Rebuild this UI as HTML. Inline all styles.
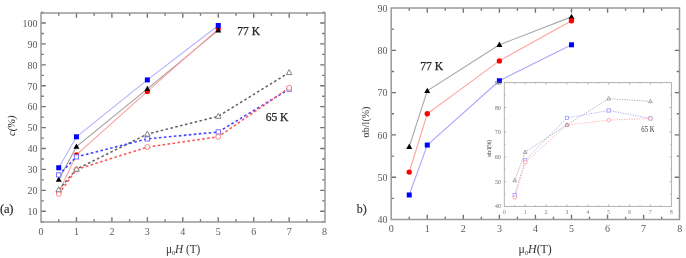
<!DOCTYPE html>
<html><head><meta charset="utf-8"><style>
html,body{margin:0;padding:0;background:#fff;width:686px;height:258px;overflow:hidden}
svg{display:block;font-family:"Liberation Serif",serif}
</style></head><body>
<svg width="686" height="258" viewBox="0 0 686 258" font-family="Liberation Serif, serif">
<defs><filter id="bl" x="-5%" y="-5%" width="110%" height="110%"><feGaussianBlur stdDeviation="0.55"/></filter></defs>
<rect width="686" height="258" fill="#fff"/>
<g filter="url(#bl)">
<path d="M76.45 222v-4.8M76.45 13v4.8M111.9 222v-4.8M111.9 13v4.8M147.35 222v-4.8M147.35 13v4.8M182.8 222v-4.8M182.8 13v4.8M218.25 222v-4.8M218.25 13v4.8M253.7 222v-4.8M253.7 13v4.8M289.15 222v-4.8M289.15 13v4.8M58.73 222v-2.8M58.73 13v2.8M94.18 222v-2.8M94.18 13v2.8M129.62 222v-2.8M129.62 13v2.8M165.08 222v-2.8M165.08 13v2.8M200.53 222v-2.8M200.53 13v2.8M235.98 222v-2.8M235.98 13v2.8M271.43 222v-2.8M271.43 13v2.8M306.88 222v-2.8M306.88 13v2.8" stroke="#707070" stroke-width="1.35" fill="none"/>
<path d="M41 211.28h4.8M325 211.28h-4.8M41 190.36h4.8M325 190.36h-4.8M41 169.44h4.8M325 169.44h-4.8M41 148.52h4.8M325 148.52h-4.8M41 127.6h4.8M325 127.6h-4.8M41 106.68h4.8M325 106.68h-4.8M41 85.76h4.8M325 85.76h-4.8M41 64.84h4.8M325 64.84h-4.8M41 43.92h4.8M325 43.92h-4.8M41 23h4.8M325 23h-4.8M41 221.74h2.8M325 221.74h-2.8M41 200.82h2.8M325 200.82h-2.8M41 179.9h2.8M325 179.9h-2.8M41 158.98h2.8M325 158.98h-2.8M41 138.06h2.8M325 138.06h-2.8M41 117.14h2.8M325 117.14h-2.8M41 96.22h2.8M325 96.22h-2.8M41 75.3h2.8M325 75.3h-2.8M41 54.38h2.8M325 54.38h-2.8M41 33.46h2.8M325 33.46h-2.8M41 12.54h2.8M325 12.54h-2.8" stroke="#707070" stroke-width="1.35" fill="none"/>
<rect x="41" y="13" width="284" height="209" fill="none" stroke="#999" stroke-width="1.5"/>
<text x="37.4" y="215.08" font-size="10" text-anchor="end" fill="#5a5a5a" >10</text>
<text x="37.4" y="194.16" font-size="10" text-anchor="end" fill="#5a5a5a" >20</text>
<text x="37.4" y="173.24" font-size="10" text-anchor="end" fill="#5a5a5a" >30</text>
<text x="37.4" y="152.32" font-size="10" text-anchor="end" fill="#5a5a5a" >40</text>
<text x="37.4" y="131.4" font-size="10" text-anchor="end" fill="#5a5a5a" >50</text>
<text x="37.4" y="110.48" font-size="10" text-anchor="end" fill="#5a5a5a" >60</text>
<text x="37.4" y="89.56" font-size="10" text-anchor="end" fill="#5a5a5a" >70</text>
<text x="37.4" y="68.64" font-size="10" text-anchor="end" fill="#5a5a5a" >80</text>
<text x="37.4" y="47.72" font-size="10" text-anchor="end" fill="#5a5a5a" >90</text>
<text x="37.4" y="26.8" font-size="10" text-anchor="end" fill="#5a5a5a" >100</text>
<text x="41" y="234.5" font-size="10" text-anchor="middle" fill="#5a5a5a" >0</text>
<text x="76.45" y="234.5" font-size="10" text-anchor="middle" fill="#5a5a5a" >1</text>
<text x="111.9" y="234.5" font-size="10" text-anchor="middle" fill="#5a5a5a" >2</text>
<text x="147.35" y="234.5" font-size="10" text-anchor="middle" fill="#5a5a5a" >3</text>
<text x="182.8" y="234.5" font-size="10" text-anchor="middle" fill="#5a5a5a" >4</text>
<text x="218.25" y="234.5" font-size="10" text-anchor="middle" fill="#5a5a5a" >5</text>
<text x="253.7" y="234.5" font-size="10" text-anchor="middle" fill="#5a5a5a" >6</text>
<text x="289.15" y="234.5" font-size="10" text-anchor="middle" fill="#5a5a5a" >7</text>
<text x="324.6" y="234.5" font-size="10" text-anchor="middle" fill="#5a5a5a" >8</text>
<polyline points="58.73,167.77 76.45,136.8 147.35,79.9 218.25,25.51" fill="none" stroke="#b3b3ff" stroke-width="1.1" opacity="1"/>
<polyline points="58.73,179.69 76.45,146.64 147.35,88.9 218.25,30.32" fill="none" stroke="#a0a0a0" stroke-width="1.1" opacity="1"/>
<polyline points="58.73,192.45 76.45,154.8 147.35,91.41 218.25,28.86" fill="none" stroke="#ffa0a0" stroke-width="1.1" opacity="1"/>
<circle cx="58.73" cy="192.45" r="2.6" fill="#f00" stroke="none" stroke-width="0"/>
<circle cx="76.45" cy="154.8" r="2.6" fill="#f00" stroke="none" stroke-width="0"/>
<circle cx="147.35" cy="91.41" r="2.6" fill="#f00" stroke="none" stroke-width="0"/>
<circle cx="218.25" cy="28.86" r="2.6" fill="#f00" stroke="none" stroke-width="0"/>
<path d="M58.73 176.45L61.73 181.85L55.73 181.85Z" fill="#000" stroke="none" stroke-width="0"/>
<path d="M76.45 143.4L79.45 148.8L73.45 148.8Z" fill="#000" stroke="none" stroke-width="0"/>
<path d="M147.35 85.66L150.35 91.06L144.35 91.06Z" fill="#000" stroke="none" stroke-width="0"/>
<path d="M218.25 27.08L221.25 32.48L215.25 32.48Z" fill="#000" stroke="none" stroke-width="0"/>
<rect x="56.23" y="165.27" width="5" height="5" fill="#00f" stroke="none" stroke-width="0"/>
<rect x="73.95" y="134.3" width="5" height="5" fill="#00f" stroke="none" stroke-width="0"/>
<rect x="144.85" y="77.4" width="5" height="5" fill="#00f" stroke="none" stroke-width="0"/>
<rect x="215.75" y="23.01" width="5" height="5" fill="#00f" stroke="none" stroke-width="0"/>
<polyline points="58.73,189.73 76.45,169.23 147.35,134.09 218.25,116.3 289.15,72.58" fill="none" stroke="#606060" stroke-width="1.5" stroke-dasharray="2.6,2.4" opacity="1"/>
<polyline points="58.73,174.88 76.45,156.89 147.35,138.9 218.25,131.99 289.15,89.11" fill="none" stroke="#44f" stroke-width="1.6" stroke-dasharray="2.6,2.4" opacity="1"/>
<polyline points="58.73,193.92 76.45,169.44 147.35,147.06 218.25,136.8 289.15,87.85" fill="none" stroke="#f55" stroke-width="1.6" stroke-dasharray="2.6,2.4" opacity="1"/>
<rect x="56.58" y="172.73" width="4.3" height="4.3" fill="#fff" stroke="#66f" stroke-width="0.9"/>
<rect x="74.3" y="154.74" width="4.3" height="4.3" fill="#fff" stroke="#66f" stroke-width="0.9"/>
<rect x="145.2" y="136.75" width="4.3" height="4.3" fill="#fff" stroke="#66f" stroke-width="0.9"/>
<rect x="216.1" y="129.84" width="4.3" height="4.3" fill="#fff" stroke="#66f" stroke-width="0.9"/>
<rect x="287" y="86.96" width="4.3" height="4.3" fill="#fff" stroke="#66f" stroke-width="0.9"/>
<circle cx="58.73" cy="193.92" r="2.5" fill="#fff" stroke="#f77" stroke-width="0.9"/>
<circle cx="76.45" cy="169.44" r="2.5" fill="#fff" stroke="#f77" stroke-width="0.9"/>
<circle cx="147.35" cy="147.06" r="2.5" fill="#fff" stroke="#f77" stroke-width="0.9"/>
<circle cx="218.25" cy="136.8" r="2.5" fill="#fff" stroke="#f77" stroke-width="0.9"/>
<circle cx="289.15" cy="87.85" r="2.5" fill="#fff" stroke="#f77" stroke-width="0.9"/>
<path d="M58.73 186.71L61.52 191.75L55.93 191.75Z" fill="#fff" stroke="#777" stroke-width="0.9"/>
<path d="M76.45 166.21L79.25 171.25L73.65 171.25Z" fill="#fff" stroke="#777" stroke-width="0.9"/>
<path d="M147.35 131.06L150.15 136.1L144.55 136.1Z" fill="#fff" stroke="#777" stroke-width="0.9"/>
<path d="M218.25 113.28L221.05 118.32L215.45 118.32Z" fill="#fff" stroke="#777" stroke-width="0.9"/>
<path d="M289.15 69.56L291.95 74.6L286.35 74.6Z" fill="#fff" stroke="#777" stroke-width="0.9"/>
<text x="248.7" y="35.4" font-size="11.5" text-anchor="middle" fill="#222" stroke="#222" stroke-width="0.25">77 K</text>
<text x="277" y="121.2" font-size="11.5" text-anchor="middle" fill="#222" stroke="#222" stroke-width="0.25">65 K</text>
<text x="11" y="125.8" font-size="10.5" text-anchor="middle" fill="#222" transform="rotate(-90 11 125.8)" font-style="italic" dy="3.6">c(%)</text>
<text x="6.8" y="212.5" font-size="12.5" text-anchor="middle" fill="#222" stroke="#222" stroke-width="0.15" textLength="13.4">(a)</text>
<text x="166" y="253" font-size="11.8" fill="#333" textLength="34.3" lengthAdjust="spacingAndGlyphs">μ<tspan font-size="6.5" dy="2">0</tspan><tspan dy="-2" font-style="italic">H</tspan> (T)</text>
<path d="M427.26 219.5v-4.8M427.26 8v4.8M463.32 219.5v-4.8M463.32 8v4.8M499.38 219.5v-4.8M499.38 8v4.8M535.44 219.5v-4.8M535.44 8v4.8M571.5 219.5v-4.8M571.5 8v4.8M607.56 219.5v-4.8M607.56 8v4.8M643.62 219.5v-4.8M643.62 8v4.8M409.23 219.5v-2.8M409.23 8v2.8M445.29 219.5v-2.8M445.29 8v2.8M481.35 219.5v-2.8M481.35 8v2.8M517.41 219.5v-2.8M517.41 8v2.8M553.47 219.5v-2.8M553.47 8v2.8M589.53 219.5v-2.8M589.53 8v2.8M625.59 219.5v-2.8M625.59 8v2.8M661.65 219.5v-2.8M661.65 8v2.8" stroke="#707070" stroke-width="1.35" fill="none"/>
<path d="M391.2 177.2h4.8M679.5 177.2h-4.8M391.2 134.9h4.8M679.5 134.9h-4.8M391.2 92.6h4.8M679.5 92.6h-4.8M391.2 50.3h4.8M679.5 50.3h-4.8M391.2 198.35h2.8M679.5 198.35h-2.8M391.2 156.05h2.8M679.5 156.05h-2.8M391.2 113.75h2.8M679.5 113.75h-2.8M391.2 71.45h2.8M679.5 71.45h-2.8M391.2 29.15h2.8M679.5 29.15h-2.8" stroke="#707070" stroke-width="1.35" fill="none"/>
<rect x="391.2" y="8" width="288.3" height="211.5" fill="none" stroke="#999" stroke-width="1.5"/>
<text x="387.6" y="223.1" font-size="10" text-anchor="end" fill="#5a5a5a" >40</text>
<text x="387.6" y="180.8" font-size="10" text-anchor="end" fill="#5a5a5a" >50</text>
<text x="387.6" y="138.5" font-size="10" text-anchor="end" fill="#5a5a5a" >60</text>
<text x="387.6" y="96.2" font-size="10" text-anchor="end" fill="#5a5a5a" >70</text>
<text x="387.6" y="53.9" font-size="10" text-anchor="end" fill="#5a5a5a" >80</text>
<text x="387.6" y="11.6" font-size="10" text-anchor="end" fill="#5a5a5a" >90</text>
<text x="391.2" y="232.2" font-size="10" text-anchor="middle" fill="#5a5a5a" >0</text>
<text x="427.26" y="232.2" font-size="10" text-anchor="middle" fill="#5a5a5a" >1</text>
<text x="463.32" y="232.2" font-size="10" text-anchor="middle" fill="#5a5a5a" >2</text>
<text x="499.38" y="232.2" font-size="10" text-anchor="middle" fill="#5a5a5a" >3</text>
<text x="535.44" y="232.2" font-size="10" text-anchor="middle" fill="#5a5a5a" >4</text>
<text x="571.5" y="232.2" font-size="10" text-anchor="middle" fill="#5a5a5a" >5</text>
<text x="607.56" y="232.2" font-size="10" text-anchor="middle" fill="#5a5a5a" >6</text>
<text x="643.62" y="232.2" font-size="10" text-anchor="middle" fill="#5a5a5a" >7</text>
<text x="679.68" y="232.2" font-size="10" text-anchor="middle" fill="#5a5a5a" >8</text>
<polyline points="409.23,146.74 427.26,90.91 499.38,44.8 571.5,16.88" fill="none" stroke="#a8a8a8" stroke-width="1.1" opacity="1"/>
<polyline points="409.23,172.12 427.26,113.75 499.38,60.88 571.5,20.69" fill="none" stroke="#ffa0a0" stroke-width="1.1" opacity="1"/>
<polyline points="409.23,194.97 427.26,145.05 499.38,80.76 571.5,44.8" fill="none" stroke="#a8a8ff" stroke-width="1.1" opacity="1"/>
<path d="M409.23 143.5L412.23 148.9L406.23 148.9Z" fill="#000" stroke="none" stroke-width="0"/>
<path d="M427.26 87.67L430.26 93.07L424.26 93.07Z" fill="#000" stroke="none" stroke-width="0"/>
<path d="M499.38 41.56L502.38 46.96L496.38 46.96Z" fill="#000" stroke="none" stroke-width="0"/>
<path d="M571.5 13.64L574.5 19.04L568.5 19.04Z" fill="#000" stroke="none" stroke-width="0"/>
<circle cx="409.23" cy="172.12" r="2.7" fill="#f00" stroke="none" stroke-width="0"/>
<circle cx="427.26" cy="113.75" r="2.7" fill="#f00" stroke="none" stroke-width="0"/>
<circle cx="499.38" cy="60.88" r="2.7" fill="#f00" stroke="none" stroke-width="0"/>
<circle cx="571.5" cy="20.69" r="2.7" fill="#f00" stroke="none" stroke-width="0"/>
<rect x="406.73" y="192.47" width="5" height="5" fill="#00f" stroke="none" stroke-width="0"/>
<rect x="424.76" y="142.55" width="5" height="5" fill="#00f" stroke="none" stroke-width="0"/>
<rect x="496.88" y="78.26" width="5" height="5" fill="#00f" stroke="none" stroke-width="0"/>
<rect x="569" y="42.3" width="5" height="5" fill="#00f" stroke="none" stroke-width="0"/>
<text x="431.7" y="69.8" font-size="11.6" text-anchor="middle" fill="#222" stroke="#222" stroke-width="0.25">77 K</text>
<text x="365.5" y="122" font-size="10" text-anchor="middle" fill="#333" transform="rotate(-90 365.5 122)" dy="3.5">αb/l(%)</text>
<text x="361.8" y="212.5" font-size="12" text-anchor="middle" fill="#333" stroke="#333" stroke-width="0.2">b)</text>
<text x="518.6" y="252.8" font-size="12.4" fill="#333" textLength="33.2" lengthAdjust="spacingAndGlyphs">μ<tspan font-size="6.5" dy="2">0</tspan><tspan dy="-2" font-style="italic">H</tspan>(T)</text>
<rect x="504.3" y="82.6" width="167.09999999999997" height="123.80000000000001" fill="#fff"/>
<path d="M525.18 206.4v-2M525.18 82.6v2M546.06 206.4v-2M546.06 82.6v2M566.94 206.4v-2M566.94 82.6v2M587.82 206.4v-2M587.82 82.6v2M608.7 206.4v-2M608.7 82.6v2M629.58 206.4v-2M629.58 82.6v2M650.46 206.4v-2M650.46 82.6v2M514.74 206.4v-1.2M514.74 82.6v1.2M535.62 206.4v-1.2M535.62 82.6v1.2M556.5 206.4v-1.2M556.5 82.6v1.2M577.38 206.4v-1.2M577.38 82.6v1.2M598.26 206.4v-1.2M598.26 82.6v1.2M619.14 206.4v-1.2M619.14 82.6v1.2M640.02 206.4v-1.2M640.02 82.6v1.2M660.9 206.4v-1.2M660.9 82.6v1.2" stroke="#999" stroke-width="0.7" fill="none"/>
<path d="M504.3 181.68h2M671.4 181.68h-2M504.3 156.96h2M671.4 156.96h-2M504.3 132.24h2M671.4 132.24h-2M504.3 107.52h2M671.4 107.52h-2M504.3 194.04h1.2M671.4 194.04h-1.2M504.3 169.32h1.2M671.4 169.32h-1.2M504.3 144.6h1.2M671.4 144.6h-1.2M504.3 119.88h1.2M671.4 119.88h-1.2M504.3 95.16h1.2M671.4 95.16h-1.2" stroke="#999" stroke-width="0.7" fill="none"/>
<rect x="504.3" y="82.6" width="167.1" height="123.8" fill="none" stroke="#aaa" stroke-width="0.9"/>
<text x="500.8" y="208.4" font-size="5.7" text-anchor="end" fill="#666" >40</text>
<text x="500.8" y="183.68" font-size="5.7" text-anchor="end" fill="#666" >50</text>
<text x="500.8" y="158.96" font-size="5.7" text-anchor="end" fill="#666" >60</text>
<text x="500.8" y="134.24" font-size="5.7" text-anchor="end" fill="#666" >70</text>
<text x="500.8" y="109.52" font-size="5.7" text-anchor="end" fill="#666" >80</text>
<text x="500.8" y="84.8" font-size="5.7" text-anchor="end" fill="#666" >90</text>
<text x="504.3" y="213.6" font-size="5.5" text-anchor="middle" fill="#777" >0</text>
<text x="525.18" y="213.6" font-size="5.5" text-anchor="middle" fill="#777" >1</text>
<text x="546.06" y="213.6" font-size="5.5" text-anchor="middle" fill="#777" >2</text>
<text x="566.94" y="213.6" font-size="5.5" text-anchor="middle" fill="#777" >3</text>
<text x="587.82" y="213.6" font-size="5.5" text-anchor="middle" fill="#777" >4</text>
<text x="608.7" y="213.6" font-size="5.5" text-anchor="middle" fill="#777" >5</text>
<text x="629.58" y="213.6" font-size="5.5" text-anchor="middle" fill="#777" >6</text>
<text x="650.46" y="213.6" font-size="5.5" text-anchor="middle" fill="#777" >7</text>
<text x="671.34" y="213.6" font-size="5.5" text-anchor="middle" fill="#777" >8</text>
<polyline points="514.74,180.44 525.18,152.02 566.94,124.82 608.7,98.62 650.46,101.34" fill="none" stroke="#999" stroke-width="0.8" stroke-dasharray="1.2,1.3" opacity="1"/>
<polyline points="514.74,195.03 525.18,160.42 566.94,117.9 608.7,110.49 650.46,118.4" fill="none" stroke="#99f" stroke-width="0.8" stroke-dasharray="1.2,1.3" opacity="1"/>
<polyline points="514.74,197.5 525.18,162.4 566.94,125.07 608.7,120.13 650.46,118.4" fill="none" stroke="#f99" stroke-width="0.8" stroke-dasharray="1.2,1.3" opacity="1"/>
<rect x="513.09" y="193.38" width="3.3" height="3.3" fill="#fff" stroke="#88f" stroke-width="0.7"/>
<rect x="523.53" y="158.77" width="3.3" height="3.3" fill="#fff" stroke="#88f" stroke-width="0.7"/>
<rect x="565.29" y="116.25" width="3.3" height="3.3" fill="#fff" stroke="#88f" stroke-width="0.7"/>
<rect x="607.05" y="108.84" width="3.3" height="3.3" fill="#fff" stroke="#88f" stroke-width="0.7"/>
<rect x="648.81" y="116.75" width="3.3" height="3.3" fill="#fff" stroke="#88f" stroke-width="0.7"/>
<circle cx="514.74" cy="197.5" r="1.8" fill="#fff" stroke="#f88" stroke-width="0.7"/>
<circle cx="525.18" cy="162.4" r="1.8" fill="#fff" stroke="#f88" stroke-width="0.7"/>
<circle cx="566.94" cy="125.07" r="1.8" fill="#fff" stroke="#f88" stroke-width="0.7"/>
<circle cx="608.7" cy="120.13" r="1.8" fill="#fff" stroke="#f88" stroke-width="0.7"/>
<circle cx="650.46" cy="118.4" r="1.8" fill="#fff" stroke="#f88" stroke-width="0.7"/>
<path d="M514.74 178.39L516.64 181.81L512.84 181.81Z" fill="none" stroke="#888" stroke-width="0.7"/>
<path d="M525.18 149.96L527.08 153.38L523.28 153.38Z" fill="none" stroke="#888" stroke-width="0.7"/>
<path d="M566.94 122.77L568.84 126.19L565.04 126.19Z" fill="none" stroke="#888" stroke-width="0.7"/>
<path d="M608.7 96.57L610.6 99.99L606.8 99.99Z" fill="none" stroke="#888" stroke-width="0.7"/>
<path d="M650.46 99.29L652.36 102.71L648.56 102.71Z" fill="none" stroke="#888" stroke-width="0.7"/>
<text x="648" y="131.9" font-size="8" text-anchor="middle" fill="#333" textLength="13.4" lengthAdjust="spacingAndGlyphs">65 K</text>
<text x="489.2" y="148.3" font-size="6.5" text-anchor="middle" fill="#444" transform="rotate(-90 489.2 148.3)" dy="2.2" textLength="17">αb/l(%)</text>
</g>
</svg>
</body></html>
